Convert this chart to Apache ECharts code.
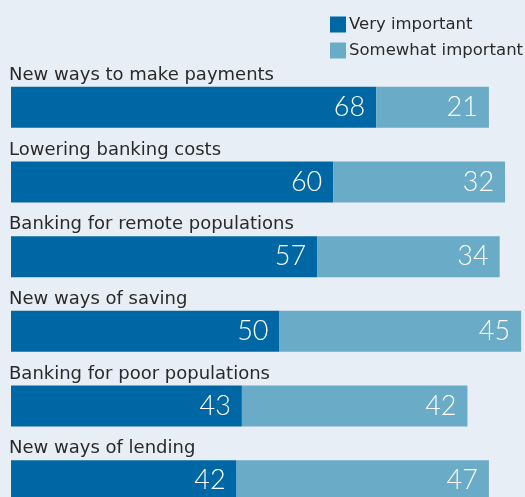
<!DOCTYPE html>
<html>
<head>
<meta charset="utf-8">
<script src="https://cdn.jsdelivr.net/npm/echarts@6/dist/echarts.min.js"></script>
<style>
  html, body { margin: 0; padding: 0; background: #e8eef5; }
  #chart { width: 525px; height: 497px; }
</style>
</head>
<body>
<div id="chart"></div>
<script>
// Categories, top to bottom
const categories = [
  'New ways to make payments',
  'Lowering banking costs',
  'Banking for remote populations',
  'New ways of saving',
  'Banking for poor populations',
  'New ways of lending'
];
const veryImportant = [68, 60, 57, 50, 43, 42];
const somewhatImportant = [21, 32, 34, 45, 42, 47];

const NUM_FONT = 'Lato, "DejaVu Sans", sans-serif';
const TEXT_FONT = '"DejaVu Sans", sans-serif';
const chart = echarts.init(document.getElementById('chart'));

const valueLabel = {
  show: true,
  position: 'insideRight',
  distance: 11,
  color: '#ffffff',
  fontFamily: NUM_FONT,
  fontSize: 27,
  fontWeight: 300
};

chart.setOption({
  backgroundColor: '#e8eef5',
  animation: false,
  legend: {
    orient: 'vertical',
    left: 325,
    top: 11,
    itemWidth: 16,
    itemHeight: 16,
    itemGap: 9,
    icon: 'rect',
    textStyle: { fontFamily: TEXT_FONT, fontSize: 16.5, color: '#2a2a2a', padding: [0, 0, 0, -2] },
    data: ['Very important', 'Somewhat important']
  },
  grid: { left: 11, top: 70, width: 537, height: 448, outerBoundsMode: 'none', containLabel: false },
  xAxis: {
    type: 'value',
    min: 0,
    max: 100,
    show: false
  },
  yAxis: {
    type: 'category',
    inverse: true,
    data: categories,
    axisLine: { show: false },
    axisTick: { show: false },
    splitLine: { show: false },
    axisLabel: {
      inside: true,
      margin: -2,
      align: 'left',
      verticalAlign: 'bottom',
      padding: [0, 0, 23, 0],
      color: '#2a2a2a',
      fontFamily: TEXT_FONT,
      fontSize: 18
    }
  },
  series: [
    {
      name: 'Very important',
      type: 'bar',
      stack: 'total',
      barWidth: 41,
      itemStyle: { color: '#0067a5' },
      label: valueLabel,
      data: veryImportant
    },
    {
      name: 'Somewhat important',
      type: 'bar',
      stack: 'total',
      barWidth: 41,
      itemStyle: { color: '#6aabc8' },
      label: valueLabel,
      data: somewhatImportant
    }
  ]
});
</script>
</body>
</html>
